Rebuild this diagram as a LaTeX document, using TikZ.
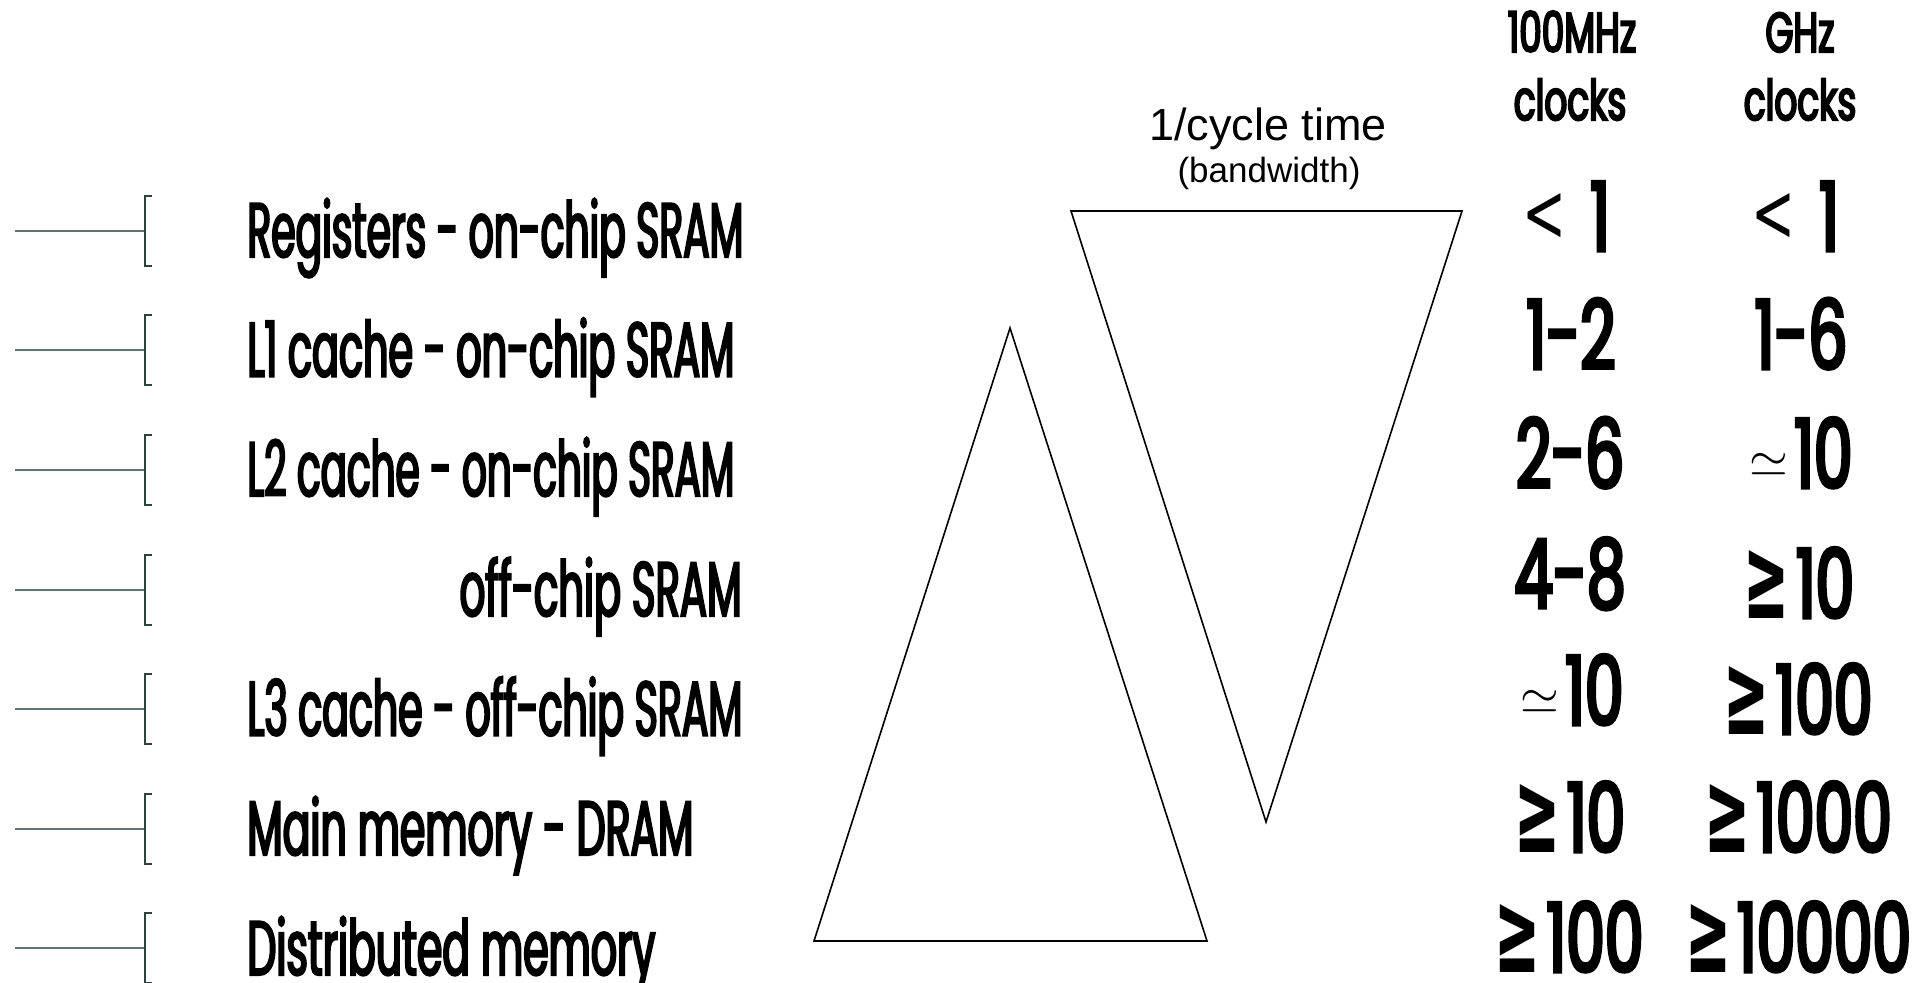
\documentclass[tikz,border=0pt]{standalone}
\usepackage{fontspec}
\usepackage{graphicx}
\setmainfont{Liberation Sans}
\newfontfamily\condfont[FakeStretch=0.5,FakeBold=2.6]{Poppins}
\newfontfamily\numfont[FakeStretch=0.64,FakeBold=3.6]{Poppins}
\newfontfamily\symfont{DejaVu Sans}
\definecolor{stemgray}{RGB}{95,115,115}
\definecolor{brackgray}{RGB}{45,65,65}
% large relation signs for the clock columns
\newcommand\bigge{\resizebox{23pt}{34pt}{\symfont\bfseries ≥}\hspace{3pt}}
\newcommand\bigsim{\raisebox{6pt}{\fontsize{25}{25}\selectfont$\simeq$}\hspace{3pt}}
\newcommand\biglt{\raisebox{4.5pt}{\resizebox{22pt}{24pt}{\symfont <}}\hspace{12pt}}
% set a label to a given width, keeping its height
\newcommand\fitto[2]{\resizebox{#1}{\height}{#2}}
\tikzset{
  lab/.style={font=\condfont\fontsize{38.5}{40}\selectfont, inner sep=0pt},
  num/.style={font=\numfont\fontsize{48}{50}\selectfont, anchor=base, inner sep=0pt},
  hdr/.style={font=\numfont\fontsize{28}{30}\selectfont, anchor=base, inner sep=0pt},
  tri/.style={draw=black, line width=0.8pt, line join=miter},
  stem/.style={draw=stemgray, line width=1pt},
  brack/.style={draw=brackgray, line width=1pt},
}
\begin{document}
\begin{tikzpicture}[x=0.5pt, y=-0.5pt]
\useasboundingbox (0,0) rectangle (1930,983);

% brackets on the left, one per memory level
\foreach \i in {0,...,6} {
  \pgfmathsetmacro\yy{231+119.5*\i}
  \coordinate (s\i) at (15,\yy);
  \coordinate (b\i) at (145,\yy);
  \draw[stem] (s\i) -- (b\i);
  \draw[brack] ([xshift=3.5pt,yshift=17.5pt]b\i) -- ([yshift=17.5pt]b\i) -- ([yshift=-17.5pt]b\i) -- ([xshift=3.5pt,yshift=-17.5pt]b\i);
}

% memory level names
\node[lab, anchor=base west] (l0) at (247,257) {\fitto{248pt}{Registers - on-chip SRAM}};
\node[lab, anchor=base west] (l1) at (247,376.5) {\fitto{243.5pt}{L1 cache - on-chip SRAM}};
\node[lab, anchor=base west] (l2) at (247,496) {\fitto{243.5pt}{L2 cache - on-chip SRAM}};
\node[lab, anchor=base east] (l3) at (742,616) {\fitto{141pt}{off-chip SRAM}};
\node[lab, anchor=base west] (l4) at (247,735.5) {\fitto{247.5pt}{L3 cache - off-chip SRAM}};
\node[lab, anchor=base west] (l5) at (247,855) {\fitto{223pt}{Main memory - DRAM}};
\node[lab, anchor=base west] (l6) at (247,975) {\fitto{204pt}{Distributed memory}};

% latency and bandwidth triangles
\coordinate (upA) at (1010,328);
\coordinate (upL) at (814,941);
\coordinate (upR) at (1207,941);
\draw[tri] (upA) -- (upL) -- (upR) -- cycle;
\coordinate (dnL) at (1071,211);
\coordinate (dnR) at (1462,211);
\coordinate (dnA) at (1266,822);
\draw[tri] (dnL) -- (dnR) -- (dnA) -- cycle;

\node[font=\fontsize{22.5}{24}\selectfont, anchor=base, inner sep=0pt] (bw1) at (1268,141) {1/cycle time};
\node[font=\fontsize{17.5}{19}\selectfont, anchor=base, inner sep=0pt] (bw2) at (1269,183) {(bandwidth)};

% clock-cycle columns
\node[hdr] (h1a) at (1572,52) {100MHz};
\node[hdr] (h1b) at (1570,120) {clocks};
\node[hdr] (h2a) at (1800,52) {GHz};
\node[hdr] (h2b) at (1800,120) {clocks};

\node[num] (a0) at (1566,251) {\biglt 1};
\node[num] (a1) at (1571,369) {1-2};
\node[num] (a2) at (1570,488) {2-6};
\node[num] (a3) at (1570,608) {4-8};
\node[num] (a4) at (1572,725) {\bigsim 10};
\node[num] (a5) at (1570,852) {\bigge 10};
\node[num] (a6) at (1569,972) {\bigge 100};

\node[num] (c0) at (1795,251) {\biglt 1};
\node[num] (c1) at (1801,369) {1-6};
\node[num] (c2) at (1801,488) {\bigsim 10};
\node[num] (c3) at (1799,618) {\bigge 10};
\node[num] (c4) at (1798,734) {\bigge 100};
\node[num] (c5) at (1798,852) {\bigge 1000};
\node[num] (c6) at (1798,972) {\bigge 10000};
\end{tikzpicture}
\end{document}
